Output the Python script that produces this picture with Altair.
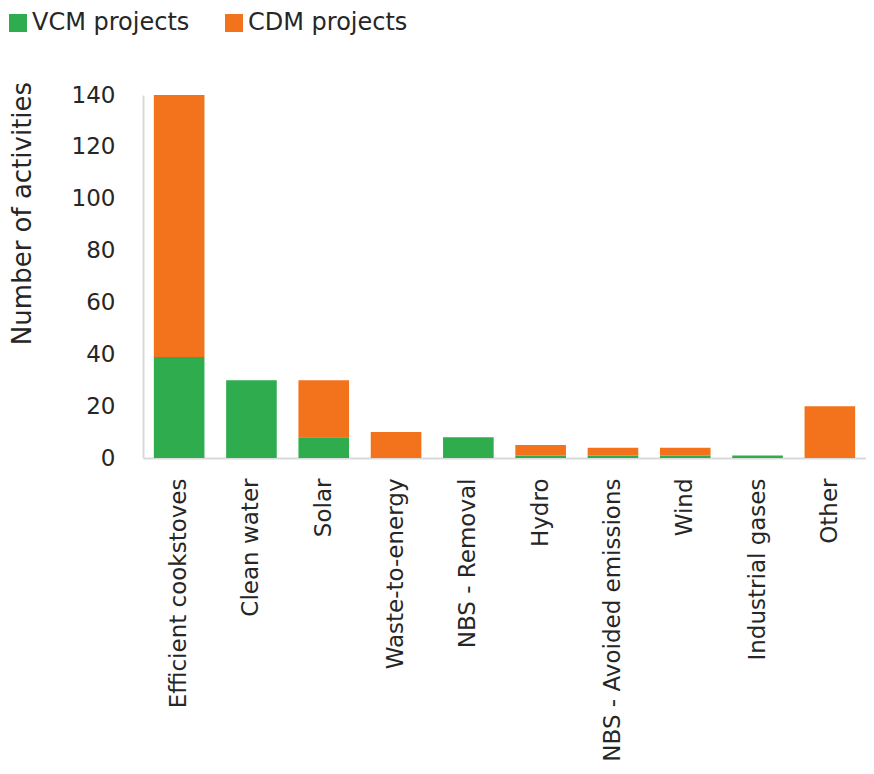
import altair as alt
import pandas as pd

categories = ["Efficient cookstoves", "Clean water", "Solar", "Waste-to-energy",
              "NBS - Removal", "Hydro", "NBS - Avoided emissions", "Wind",
              "Industrial gases", "Other"]
vcm = [39, 30, 8, 0, 8, 1, 1, 1, 1, 0]
cdm = [101, 0, 22, 10, 0, 4, 3, 3, 0, 20]
series = ["VCM projects", "CDM projects"]
colors = ["#2EAC4E", "#F2731B"]

rows = []
for i, c in enumerate(categories):
    rows.append({"category": c, "series": series[0], "value": vcm[i], "ord": 0})
    rows.append({"category": c, "series": series[1], "value": cdm[i], "ord": 1})
df = pd.DataFrame(rows)

FONT = "DejaVu Sans"
TXT = "#262626"

chart = alt.Chart(df).mark_bar().encode(
    x=alt.X("category:N", sort=categories,
            scale=alt.Scale(paddingInner=0.3, paddingOuter=0.15),
            axis=alt.Axis(title=None, labelAngle=270, labelAlign="right",
                          labelBaseline="middle", labelPadding=20, ticks=False,
                          labelFontSize=23, labelColor=TXT, labelFont=FONT,
                          labelLimit=500,
                          domainColor="#D9D9D9", domainWidth=2)),
    y=alt.Y("value:Q", stack="zero",
            scale=alt.Scale(domain=[0, 140], nice=False),
            axis=alt.Axis(title="Number of activities", values=[0, 20, 40, 60, 80, 100, 120, 140],
                          grid=False, ticks=False, labelPadding=28,
                          labelFontSize=23, labelColor=TXT, labelFont=FONT,
                          titleFontSize=26, titleColor=TXT, titleFont=FONT,
                          titleFontWeight="normal", titleAngle=270,
                          titleX=-121, titleY=118, titleAlign="center",
                          titleBaseline="middle",
                          domainColor="#D9D9D9", domainWidth=2)),
    color=alt.Color("series:N", sort=series,
                    scale=alt.Scale(domain=series, range=colors),
                    legend=alt.Legend(title=None, orient="none", direction="horizontal",
                                      legendX=-137, legendY=-84, padding=0,
                                      symbolType="square", symbolSize=324,
                                      symbolStrokeWidth=0, labelFontSize=24,
                                      labelFont=FONT, labelColor=TXT,
                                      labelLimit=400,
                                      labelOffset=2, columnPadding=32)),
    order=alt.Order("ord:Q"),
).properties(
    width=723, height=363,
    autosize=alt.AutoSizeParams(type="none"),
    padding={"left": 135, "top": 87, "right": 0, "bottom": 308},
).configure_view(stroke=None)

chart.save("out.html", embed_options={"renderer": "svg", "actions": False})
